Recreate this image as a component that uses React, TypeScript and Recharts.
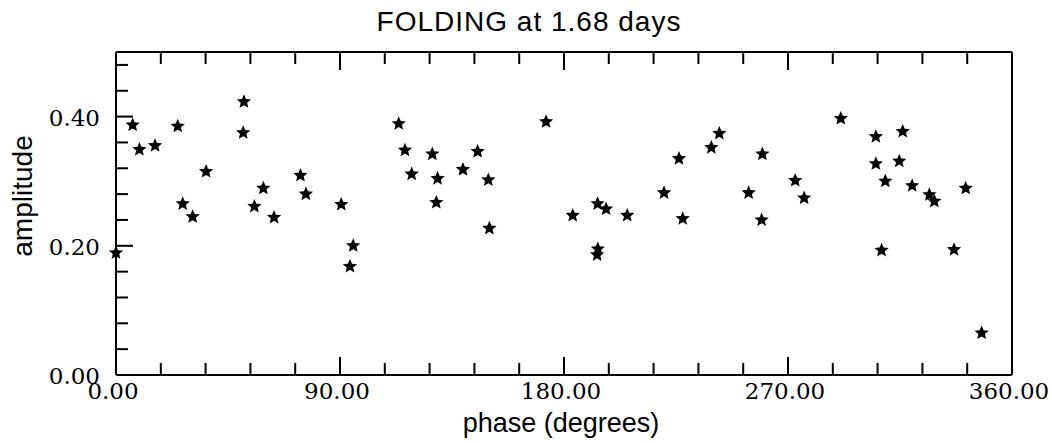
import React from 'react';
import { ScatterChart, Scatter, XAxis, YAxis } from 'recharts';

const phase = [
  0, 6.7, 9.4, 15.7, 24.8, 26.8, 30.8, 36.2, 51.4, 51.1, 55.6, 59.2, 63.5, 74.1, 76.3,
  90.5, 94.0, 95.3, 113.6, 116.1, 118.8, 127.1, 128.7, 129.2, 139.4, 145.3, 149.6, 150.0,
  172.8, 183.5, 193.5, 193.6, 193.3, 196.9, 205.4, 220.2, 226.2, 227.7, 239.2, 242.4,
  254.2, 259.7, 259.4, 272.9, 276.5, 291.2, 305.3, 305.3, 307.6, 309.1, 314.7, 316.1,
  319.9, 326.8, 328.8, 336.7, 341.4, 347.8,
];
const amplitude = [
  0.189, 0.387, 0.349, 0.355, 0.385, 0.265, 0.245, 0.315, 0.423, 0.375, 0.261, 0.289, 0.244, 0.309, 0.280,
  0.264, 0.168, 0.200, 0.389, 0.348, 0.311, 0.342, 0.267, 0.304, 0.318, 0.346, 0.302, 0.227,
  0.392, 0.247, 0.265, 0.195, 0.186, 0.257, 0.247, 0.282, 0.335, 0.242, 0.352, 0.374,
  0.282, 0.342, 0.240, 0.301, 0.274, 0.397, 0.369, 0.327, 0.193, 0.300, 0.331, 0.377,
  0.293, 0.279, 0.269, 0.194, 0.289, 0.065,
];
const xTicks = [0, 18, 36, 54, 72, 90, 108, 126, 144, 162, 180, 198, 216, 234, 252, 270, 288, 306, 324, 342, 360];
const yTicks = [0, 0.04, 0.08, 0.12, 0.16, 0.2, 0.24, 0.28, 0.32, 0.36, 0.4, 0.44, 0.48];

const points = phase.map((p, i) => ({ phase: p, amp: amplitude[i] }));

const CHART_W = 1052;
const CHART_H = 443;
const MARGIN_TOP = 52;
const X_AXIS_H = 68;
const PLOT_H = CHART_H - MARGIN_TOP - X_AXIS_H;

const isMajorX = (v: number) => v % 90 === 0;
const isMajorY = (v: number) => Math.abs(v / 0.2 - Math.round(v / 0.2)) < 1e-6;

const tickFont = { fontFamily: '"DejaVu Serif", serif', fontSize: 23, fill: '#000' };

// bottom tick also draws the matching inward tick on the top frame
const BottomTick = ({ x, y, payload }: any) => {
  const major = isMajorX(payload.value);
  const len = major ? 18 : 12;
  const top = y - PLOT_H;
  return (
    <g>
      <line x1={x} x2={x} y1={y} y2={y - len} stroke="#000" strokeWidth={2} />
      <line x1={x} x2={x} y1={top} y2={top + len} stroke="#000" strokeWidth={2} />
      {major && (
        <text x={x - 3} y={y + 24} textAnchor="middle" {...tickFont}>
          {payload.value.toFixed(2)}
        </text>
      )}
    </g>
  );
};

const LeftTick = ({ x, y, payload }: any) => {
  const major = isMajorY(payload.value);
  return (
    <g>
      <line x1={x} x2={x + (major ? 17 : 12)} y1={y} y2={y} stroke="#000" strokeWidth={2} />
      {major && (
        <text x={x - 16} y={y + 9} textAnchor="end" {...tickFont}>
          {payload.value.toFixed(2)}
        </text>
      )}
    </g>
  );
};

const RightTick = ({ x, y, payload }: any) => {
  const major = isMajorY(payload.value);
  return <line x1={x} x2={x - (major ? 17 : 12)} y1={y} y2={y} stroke="#000" strokeWidth={2} />;
};

// five-pointed star marker
const Star = ({ cx, cy }: any) => {
  if (cx == null || cy == null) return null;
  const pts: string[] = [];
  for (let i = 0; i < 10; i++) {
    const r = i % 2 === 0 ? 7.5 : 3.4;
    const a = -Math.PI / 2 + (i * Math.PI) / 5;
    pts.push(`${cx + r * Math.cos(a)},${cy + r * Math.sin(a)}`);
  }
  return <polygon points={pts.join(' ')} fill="#000" />;
};

const App: React.FC = () => {
  const sans = '"Liberation Sans", Arial, sans-serif';
  return (
    <div style={{ position: 'absolute', left: 0, top: 0, width: CHART_W, height: CHART_H, background: '#fff' }}>
      <ScatterChart width={CHART_W} height={CHART_H} margin={{ top: MARGIN_TOP - 30, right: 0, bottom: 0, left: 0 }}>
        <XAxis
          xAxisId="x" dataKey="phase" type="number" domain={[0, 360]} ticks={xTicks} interval={0}
          height={X_AXIS_H} axisLine={{ stroke: '#000', strokeWidth: 2 }} tickLine={false}
          tickSize={0} tickMargin={0} tick={<BottomTick />}
        />
        <XAxis
          xAxisId="xt" dataKey="phase" orientation="top" type="number" domain={[0, 360]} ticks={xTicks}
          height={30} axisLine={{ stroke: '#000', strokeWidth: 2 }} tickLine={false} tick={false}
        />
        <YAxis
          yAxisId="y" dataKey="amp" type="number" domain={[0, 0.5]} ticks={yTicks} interval={0}
          width={116} axisLine={{ stroke: '#000', strokeWidth: 2 }} tickLine={false}
          tickSize={0} tickMargin={0} tick={<LeftTick />}
        />
        <YAxis
          yAxisId="yr" dataKey="amp" orientation="right" type="number" domain={[0, 0.5]} ticks={yTicks} interval={0}
          width={40} axisLine={{ stroke: '#000', strokeWidth: 2 }} tickLine={false}
          tickSize={0} tickMargin={0} tick={<RightTick />}
        />
        {/* empty series so the top/right frame axes are drawn */}
        <Scatter xAxisId="xt" yAxisId="yr" data={[]} isAnimationActive={false} />
        <Scatter
          xAxisId="x" yAxisId="y" data={points} shape={<Star />}
          isAnimationActive={false}
        />
      </ScatterChart>
      <svg width={CHART_W} height={CHART_H} style={{ position: 'absolute', left: 0, top: 0, pointerEvents: 'none' }}>
        <text x={529} y={31} textAnchor="middle" fontFamily={sans} fontSize={28} letterSpacing={1} fill="#000">
          FOLDING at 1.68 days
        </text>
        <text x={561} y={432} textAnchor="middle" fontFamily={sans} fontSize={27} fill="#000">
          phase (degrees)
        </text>
        <text x={32} y={196} textAnchor="middle" fontFamily={sans} fontSize={28} fill="#000"
          transform="rotate(-90, 32, 196)">
          amplitude
        </text>
      </svg>
    </div>
  );
};

export default App;
